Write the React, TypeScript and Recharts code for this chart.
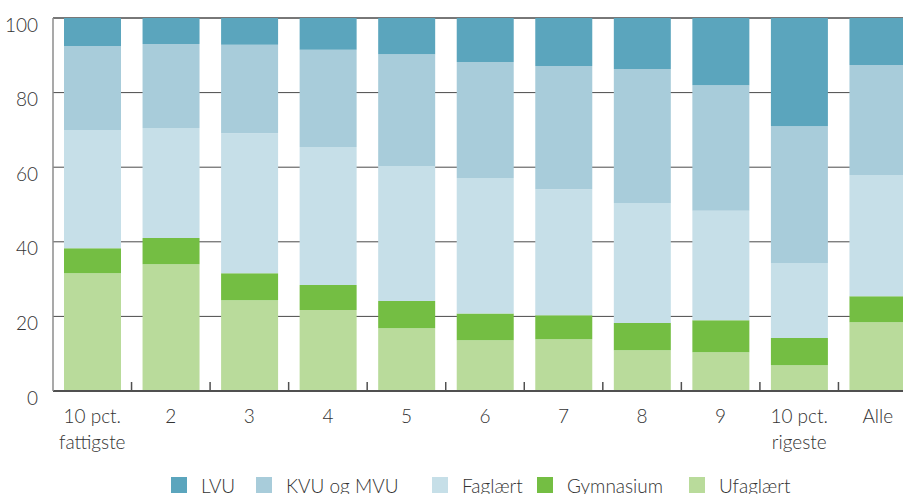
import { BarChart, Bar, XAxis, YAxis, CartesianGrid, Legend } from 'recharts';

// income deciles
const categories = ['10 pct.\nfattigste', '2', '3', '4', '5', '6', '7', '8', '9', '10 pct.\nrigeste', 'Alle'];

// share (%) by highest completed education
const ufaglaert = [31.6, 34.0, 24.3, 21.7, 16.8, 13.6, 13.9, 10.9, 10.4, 6.9, 18.4];
const gymnasium = [6.7, 7.0, 7.3, 6.7, 7.3, 7.2, 6.4, 7.3, 8.6, 7.3, 7.0];
const faglaert = [31.7, 29.5, 37.5, 37.0, 36.2, 36.3, 33.8, 32.2, 29.3, 20.1, 32.5];
const kvuMvu = [22.5, 22.5, 23.7, 26.1, 30.0, 31.1, 33.0, 35.9, 33.7, 36.7, 29.5];
const lvu = [7.5, 7.0, 7.2, 8.5, 9.7, 11.8, 12.9, 13.7, 18.0, 29.0, 12.6];

const yTicks = [0, 20, 40, 60, 80, 100];

// stack order, bottom to top
const series = [
  { key: 'ufaglaert', name: 'Ufaglært', color: '#b9db9b' },
  { key: 'gymnasium', name: 'Gymnasium', color: '#74be43' },
  { key: 'faglaert', name: 'Faglært', color: '#c6dfe8' },
  { key: 'kvuMvu', name: 'KVU og MVU', color: '#a8ccda' },
  { key: 'lvu', name: 'LVU', color: '#5ba5bd' },
];

const data = categories.map((name, i) => ({
  name,
  ufaglaert: ufaglaert[i],
  gymnasium: gymnasium[i],
  faglaert: faglaert[i],
  kvuMvu: kvuMvu[i],
  lvu: lvu[i],
}));

const FONT = "Lato, 'Noto Sans', sans-serif";
const TEXT = '#333';
const CHART_W = 917;
const CHART_H = 494;
const Y_AXIS_W = 53;
const BAND = (CHART_W - Y_AXIS_W) / categories.length;

const legendWidths = [85, 176, 105, 152, 120];

function XTick(props: any) {
  const { x, y, payload } = props;
  const lines = String(payload.value).split('\n');
  const tx = x + BAND / 2;
  return (
    <g>
      <line x1={tx} x2={tx} y1={y - 9} y2={y} stroke="#505050" strokeWidth={1.5} />
      <text x={x} y={y + 32} textAnchor="middle" fill={TEXT} fontSize={19} fontWeight={300} fontFamily={FONT}>
        {lines.map((l, i) => (
          <tspan key={i} x={x} dy={i === 0 ? 0 : 26}>{l}</tspan>
        ))}
      </text>
    </g>
  );
}

function YTick(props: any) {
  const { x, y, payload } = props;
  return (
    <text x={x} y={y + 13.5} textAnchor="end" fill={TEXT} fontSize={19} fontWeight={300} fontFamily={FONT}>
      {payload.value}
    </text>
  );
}

function LegendContent() {
  const items = [...series].reverse();
  return (
    <div style={{ height: 30, display: 'flex', alignItems: 'center', paddingTop: 12, paddingLeft: 171, boxSizing: 'border-box', fontFamily: FONT, fontWeight: 300, fontSize: 19, color: TEXT }}>
      {items.map((s, i) => (
        <div key={s.key} style={{ width: legendWidths[i], display: 'flex', alignItems: 'center', flexShrink: 0, whiteSpace: 'nowrap' }}>
          <span style={{ width: 16, height: 16, background: s.color, marginRight: 14, display: 'inline-block' }} />
          <span>{s.name}</span>
        </div>
      ))}
    </div>
  );
}

export default function App() {
  return (
    <div style={{ position: 'fixed', left: 0, top: 0, width: 903, height: 494, overflow: 'hidden', background: '#fff' }}>
      <BarChart width={CHART_W} height={CHART_H} data={data} margin={{ top: 18, right: 0, left: 0, bottom: 0 }} barSize={57}>
        <CartesianGrid vertical={false} stroke="#4a4a4a" strokeWidth={1} />
        <XAxis
          dataKey="name"
          height={73}
          interval={0}
          tickSize={0}
          tickMargin={0}
          tickLine={false}
          axisLine={{ stroke: '#505050', strokeWidth: 2 }}
          tick={<XTick />}
        />
        <YAxis
          width={Y_AXIS_W}
          domain={[0, 100]}
          ticks={yTicks}
          tickSize={0}
          tickMargin={15}
          tickLine={false}
          axisLine={{ stroke: '#8c8c8c', strokeWidth: 1.5 }}
          tick={<YTick />}
        />
        <Legend verticalAlign="bottom" height={30} content={<LegendContent />} wrapperStyle={{ left: 0, bottom: 0, width: CHART_W, height: 30 }} />
        {series.map((s) => (
          <Bar key={s.key} dataKey={s.key} name={s.name} stackId="a" fill={s.color} isAnimationActive={false} />
        ))}
      </BarChart>
    </div>
  );
}
